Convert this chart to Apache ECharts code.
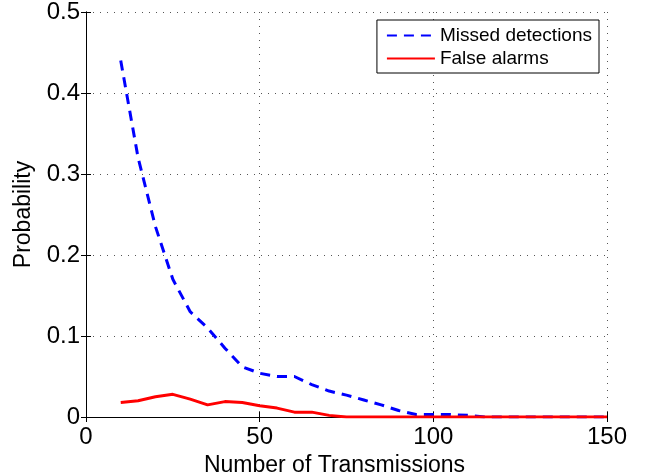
<!DOCTYPE html>
<html><head><meta charset="utf-8">
<script src="https://cdn.jsdelivr.net/npm/echarts@6/dist/echarts.min.js"></script>
<style>html,body{margin:0;padding:0;background:#fff}#c{width:647px;height:476px}</style>
</head><body><div id="c"></div>
<script>
const xValues = [10,15,20,25,30,35,40,45,50,55,60,65,70,75,80,85,90,95,100,105,110,115,120,125,130,135,140,145,150];
const missed = [0.44,0.32,0.235,0.17,0.13,0.11,0.085,0.062,0.054,0.05,0.05,0.04,0.032,0.027,0.021,0.015,0.008,0.003,0.003,0.003,0.002,0,0,0,0,0,0,0,0];
const falseAlarms = [0.018,0.02,0.025,0.028,0.022,0.015,0.019,0.018,0.014,0.011,0.006,0.006,0.002,0,0,0,0,0,0,0,0,0,0,0,0,0,0,0,0];
const seriesNames = ['Missed detections','False alarms'];
const xTitle = 'Number of Transmissions';
const yTitle = 'Probability';

const font = 'Liberation Sans, Arial, Helvetica, sans-serif';
const chart = echarts.init(document.getElementById('c'));
const axisLine = {show:true, lineStyle:{color:'#000', width:1}};
const tick = {show:true, inside:true, length:5, lineStyle:{color:'#000'}};
const grid = {show:true, lineStyle:{color:'#555', type:[1,6], width:1}};
chart.setOption({
  animation:false,
  grid:{left:86, right:40, top:12, bottom:59, containLabel:false, outerBoundsMode:'none'},
  legend:{
    right:48, top:20, orient:'vertical', data:seriesNames,
    itemWidth:48, itemHeight:14, itemGap:4,
    itemStyle:{opacity:0},
    borderColor:'#000', borderWidth:1, borderRadius:0,
    padding:[6,7,5,9], backgroundColor:'#fff',
    textStyle:{fontFamily:font, fontSize:19, color:'#000'}
  },
  xAxis:[{
    type:'value', min:0, max:150, interval:50,
    name:xTitle, nameLocation:'middle', nameGap:32,
    nameTextStyle:{fontFamily:font, fontSize:23, color:'#000', padding:[0,24,0,0]},
    axisLine:axisLine, axisTick:tick, splitLine:grid,
    axisLabel:{fontFamily:font, fontSize:24, color:'#000', margin:8}
  },{
    type:'value', position:'top', min:0, max:150, interval:50,
    axisLine:axisLine, axisTick:tick, axisLabel:{show:false}, splitLine:{show:false}
  }],
  yAxis:[{
    type:'value', min:0, max:0.5, interval:0.1,
    name:yTitle, nameLocation:'middle', nameGap:51,
    nameTextStyle:{fontFamily:font, fontSize:23, color:'#000'},
    axisLine:axisLine, axisTick:tick, splitLine:grid,
    axisLabel:{fontFamily:font, fontSize:24, color:'#000', margin:6}
  },{
    type:'value', position:'right', min:0, max:0.5, interval:0.1,
    axisLine:axisLine, axisTick:tick, axisLabel:{show:false}, splitLine:{show:false}
  }],
  series:[{
    name:seriesNames[0], type:'line', symbol:'none',
    data:xValues.map((x,i)=>[x,missed[i]]),
    lineStyle:{color:'#0000ff', width:3, type:[10,7]}, itemStyle:{color:'#0000ff'}
  },{
    name:seriesNames[1], type:'line', symbol:'none',
    data:xValues.map((x,i)=>[x,falseAlarms[i]]),
    lineStyle:{color:'#ff0000', width:3}, itemStyle:{color:'#ff0000'}
  }]
});
</script></body></html>
